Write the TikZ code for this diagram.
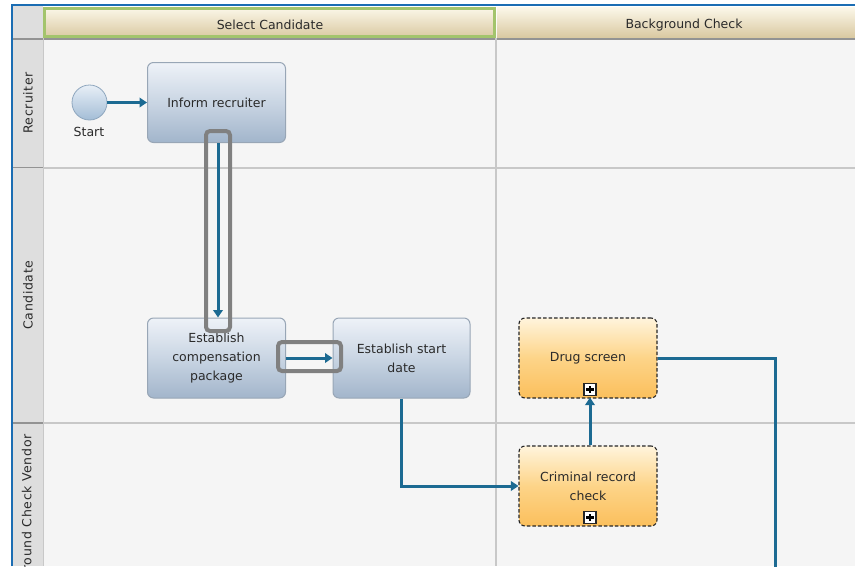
\documentclass[tikz,border=0pt]{standalone}
\usepackage{fontspec}
\setmainfont{DejaVu Sans}
\newfontfamily\lanefont[LetterSpace=5]{DejaVu Sans}
\usetikzlibrary{arrows.meta}

\definecolor{frameblue}{HTML}{1B6DB3}
\definecolor{flowblue}{HTML}{1C6A92}
\definecolor{lanebg}{HTML}{F5F5F5}
\definecolor{labelgray}{HTML}{DEDEDE}
\definecolor{laneline}{HTML}{C8C8C8}
\definecolor{labelline}{HTML}{939393}
\definecolor{hdrtop}{HTML}{FCF8EA}
\definecolor{hdrbot}{HTML}{D9C8A0}
\definecolor{hdrgreen}{HTML}{A3C46C}
\definecolor{tasktop}{HTML}{EEF2F8}
\definecolor{taskmid}{HTML}{C9D5E3}
\definecolor{taskbot}{HTML}{A2B5CB}
\definecolor{taskedge}{HTML}{98A6B6}
\definecolor{subtop}{HTML}{FFF4DC}
\definecolor{submid}{HTML}{FDD488}
\definecolor{subbot}{HTML}{FBBF5C}
\definecolor{starttop}{HTML}{E8EFF7}
\definecolor{startbot}{HTML}{A3BDD6}
\definecolor{startedge}{HTML}{8EA6BE}
\definecolor{hilitegray}{HTML}{808080}
\definecolor{inktext}{HTML}{2A2A2A}

\begin{document}
\begin{tikzpicture}[x=1pt,y=-1pt,
  font=\fontsize{12.5}{19}\selectfont,
  every node/.style={text=inktext},
  task/.style={rectangle, rounded corners=6pt, draw=taskedge, line width=1pt,
    top color=tasktop, bottom color=taskbot, middle color=taskmid,
    minimum width=138pt, minimum height=80pt, align=center, inner sep=2pt},
  subproc/.style={rectangle, rounded corners=6pt, draw=black!85, line width=1.1pt,
    dash pattern=on 3.5pt off 2pt,
    top color=subtop, bottom color=subbot, middle color=submid,
    minimum width=138pt, minimum height=80pt, align=center, inner sep=2pt},
  startev/.style={circle, draw=startedge, line width=0.8pt,
    top color=starttop, bottom color=startbot,
    minimum size=35pt, inner sep=0pt},
  plusbox/.style={rectangle, draw=black!85, fill=white, line width=1.4pt,
    minimum size=12pt, inner sep=0pt,
    path picture={\draw[black, line width=2.2pt]
      ([xshift=-3.6pt]path picture bounding box.center) -- ++(7.2pt,0)
      ([yshift=-3.6pt]path picture bounding box.center) -- ++(0,7.2pt);}},
  flowline/.style={draw=flowblue, line width=3pt,
    -{Triangle[length=7.5pt,width=9.5pt]}},
  flowplain/.style={draw=flowblue, line width=3pt},
  lanelabel/.style={rotate=90, font=\lanefont\fontsize{12.5}{14}\selectfont},
  hilite/.style={rectangle, draw=hilitegray, line width=4pt, rounded corners=4pt, inner sep=0pt},
  hdrtext/.style={font=\fontsize{12.5}{14}\selectfont}
]
\useasboundingbox (0,0) rectangle (855,566);
\clip (0,0) rectangle (855,566);

% canvas and pool body
\fill[white] (0,0) rectangle (855,566);
\fill[lanebg] (43,38) rectangle (855,566);
\fill[labelgray] (12,6) rectangle (43,566);

% phase headers
\shade[top color=hdrtop, bottom color=hdrbot] (43,7) rectangle (496,38);
\draw[hdrgreen, line width=3pt] (44.5,8.5) rectangle (494.5,36.5);
\shade[top color=hdrtop, bottom color=hdrbot] (497,7) rectangle (855,38);
\node[hdrtext] (hdrSelect) at (270,25) {Select Candidate};
\node[hdrtext] (hdrCheck) at (684,25) {Background Check};

% lane and phase separators
\draw[labelline, line width=2pt] (12,38.5) -- (855,38.5);
\draw[laneline, line width=2pt] (43,167.5) -- (855,167.5);
\draw[laneline, line width=2pt] (43,423) -- (855,423);
\draw[labelline, line width=1.5pt] (12,167.5) -- (43,167.5);
\draw[labelline, line width=1.5pt] (12,423) -- (43,423);
\draw[laneline, line width=2pt] (496,38) -- (496,566);
\draw[laneline, line width=1pt] (43,38) -- (43,566);

% lane labels
\node[lanelabel] (laneRecruiter) at (28,103) {Recruiter};
\node[lanelabel] (laneCandidate) at (28,295) {Candidate};
\node[lanelabel, anchor=east] (laneVendor) at (28,431) {Background Check Vendor};

% pool frame
\draw[frameblue, line width=2pt] (12,566) -- (12,5) -- (855,5);

% flow elements
\node[startev] (start) at (89.5,102.5) {};
\node (startLabel) at (89,132) {Start};
\node[task] (inform) at (216.5,102.5) {Inform recruiter};
\node[task] (comp) at (216.5,358) {Establish\\compensation\\package};
\node[task, minimum width=137pt] (sdate) at (401.5,358) {Establish start\\date};
\node[subproc] (drug) at (588,358) {Drug screen};
\node[subproc] (crim) at (588,486) {Criminal record\\check};
\node[plusbox] (drugPlus) at (590,389.5) {};
\node[plusbox] (crimPlus) at (590,517.5) {};
\coordinate (exitDown) at (775,580);

% sequence flows
\path[flowline] (inform.south -| 218,0) -- (comp.north -| 218,0);
\path[flowline] (start.east) -- (inform.west);
\path[flowline] (comp.east) -- (sdate.west);
\path[flowline] (sdate.south) |- (crim.west);
\path[flowline] (crim.north -| 590,0) -- ([yshift=1pt]drug.south -| 590,0);
\path[flowplain] (drug.east) -| (exitDown);

% highlight marks
\node[hilite, minimum width=24pt, minimum height=200pt] (markDown) at (218,231) {};
\node[hilite, minimum width=63pt, minimum height=29pt] (markRight) at (309.5,356.5) {};
\end{tikzpicture}
\end{document}
